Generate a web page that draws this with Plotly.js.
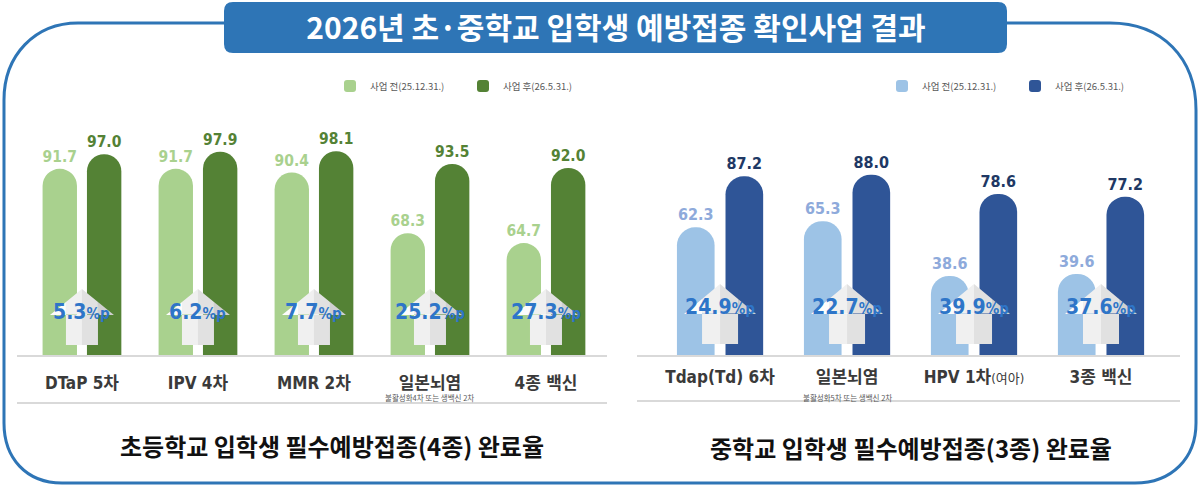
<!DOCTYPE html>
<html><head><meta charset="utf-8">
<script src="https://cdn.plot.ly/plotly-3.0.1.min.js"></script>
<style>html,body{margin:0;padding:0;background:#fff}#chart{width:1200px;height:485px}</style>
</head><body><div id="chart"></div>
<script>
// ---- data ----
const mainTitle = '2026년 초·중학교 입학생 예방접종 확인사업 결과';
const seriesNames = ['사업 전(25.12.31.)', '사업 후(26.5.31.)'];

const leftCats = ['DTaP 5차', 'IPV 4차', 'MMR 2차', '일본뇌염', '4종 백신'];
const leftSubLabels = ['', '', '', '불활성화4차 또는 생백신 2차', ''];
const leftBefore = [91.7, 91.7, 90.4, 68.3, 64.7];
const leftAfter = [97.0, 97.9, 98.1, 93.5, 92.0];
const leftDiff = ['5.3', '6.2', '7.7', '25.2', '27.3'];
const leftTitle = '초등학교 입학생 필수예방접종(4종) 완료율';

const rightCats = ['Tdap(Td) 6차', '일본뇌염', 'HPV 1차', '3종 백신'];
const rightTickText = ['Tdap(Td) 6차', '일본뇌염',
  'HPV 1차<span style="font-size:13px;font-weight:normal">(여아)</span>', '3종 백신'];
const rightSubLabels = ['', '불활성화5차 또는 생백신 2차', '', ''];
const rightBefore = [62.3, 65.3, 38.6, 39.6];
const rightAfter = [87.2, 88.0, 78.6, 77.2];
const rightDiff = ['24.9', '22.7', '39.9', '37.6'];
const rightTitle = '중학교 입학생 필수예방접종(3종) 완료율';

// ---- styling ----
const W = 1200, H = 485;
const NUM = "'Liberation Sans Narrow', 'DejaVu Sans Condensed', 'Noto Sans CJK KR', sans-serif";
const KR = "'Noto Sans CJK KR', 'Noto Sans', sans-serif";
const blue = '#2e75b6';
const baseY = 355; // image px of bar baseline
const yDom = [(H - baseY) / H, (H - 60) / H];
const px = (x) => x / W;
const py = (y) => 1 - y / H;

function barTrace(cats, vals, name, color, txtColor, xa, ya, leg) {
  return {
    type: 'bar', x: cats, y: vals, name: name, xaxis: xa, yaxis: ya, legend: leg, showlegend: true,
    marker: {color: color}, texttemplate: '%{y:.1f}', textposition: 'outside', cliponaxis: false,
    textfont: {family: NUM, size: 16, color: txtColor, weight: 'bold'}, hoverinfo: 'skip'
  };
}

const data = [
  barTrace(leftCats, leftBefore, seriesNames[0], '#a9d18e', '#a9d18e', 'x', 'y', 'legend'),
  barTrace(leftCats, leftAfter, seriesNames[1], '#548235', '#548235', 'x', 'y', 'legend'),
  barTrace(rightCats, rightBefore, seriesNames[0], '#9dc3e6', '#8eaadb', 'x2', 'y2', 'legend2'),
  barTrace(rightCats, rightAfter, seriesNames[1], '#2f5597', '#203864', 'x2', 'y2', 'legend2')
];

// arrows (gradient made of vertical slices)
const shapes = [];
function arrowShapes(xref, n, Hh, S, yb, yh, ya) {
  const cols = ['#fcfcfc', '#f0f0f0', '#e1e1e1', '#d0d0d0'];
  const edges = [-Hh, -Hh / 2, 0, Hh / 2, Hh];
  const Y = (p) => (yDom[0] + p / H).toFixed(5);
  const top = (x) => yh + (ya - yh) * (1 - Math.abs(x) / Hh);
  for (let i = 0; i < n; i++) {
    for (let k = 0; k < 4; k++) {
      const a = edges[k], b = edges[k + 1];
      let p = `M${a},${Y(yh)} L${b},${Y(yh)} L${b},${Y(top(b))} `;
      if (b === 0) p += `L0,${Y(ya)} `;
      p += `L${a},${Y(top(a))} Z`;
      const lo = Math.max(a, -S), hi = Math.min(b, S);
      if (lo < hi) p += ` M${lo},${Y(yb)} L${hi},${Y(yb)} L${hi},${Y(yh + 0.5)} L${lo},${Y(yh + 0.5)} Z`;
      shapes.push({type: 'path', xref: xref, yref: 'paper', xsizemode: 'pixel', xanchor: i,
        path: p, fillcolor: cols[k], line: {width: 0}, layer: 'above'});
    }
  }
}
arrowShapes('x', leftCats.length, 32, 16, 10, 40, 66);
arrowShapes('x2', rightCats.length, 36, 18, 11, 41, 71);

// lower divider lines
shapes.push({type: 'line', xref: 'x domain', yref: 'paper', x0: 0, x1: 1, y0: py(403), y1: py(403), line: {color: '#d9d9d9', width: 2}});
shapes.push({type: 'line', xref: 'x2 domain', yref: 'paper', x0: 0, x1: 1, y0: py(401), y1: py(401), line: {color: '#d9d9d9', width: 2}});

// outer rounded frame
const P = (x, y) => `${px(x).toFixed(5)},${py(y).toFixed(5)}`;
shapes.push({type: 'path', xref: 'paper', yref: 'paper', line: {color: blue, width: 3},
  path: `M${P(230, 23)} L${P(78, 23)} C${P(35, 23)} ${P(4, 55)} ${P(4, 100)} L${P(4, 423)} C${P(4, 458)} ${P(26, 483)} ${P(62, 483)} L${P(1135, 483)} C${P(1172, 483)} ${P(1196, 458)} ${P(1196, 423)} L${P(1196, 110)} C${P(1196, 58)} ${P(1162, 23)} ${P(1110, 23)} Z`});
// title box
const r = 9, bx0 = 224, bx1 = 1007, by0 = 2, by1 = 53;
shapes.push({type: 'path', xref: 'paper', yref: 'paper', fillcolor: blue, line: {width: 0},
  path: `M${P(bx0 + r, by0)} L${P(bx1 - r, by0)} Q${P(bx1, by0)} ${P(bx1, by0 + r)} L${P(bx1, by1 - r)} Q${P(bx1, by1)} ${P(bx1 - r, by1)} L${P(bx0 + r, by1)} Q${P(bx0, by1)} ${P(bx0, by1 - r)} L${P(bx0, by0 + r)} Q${P(bx0, by0)} ${P(bx0 + r, by0)} Z`});

const annotations = [];
function diffAnn(xref, diffs, yImg) {
  diffs.forEach((d, i) => annotations.push({
    xref: xref, yref: 'paper', x: i, y: py(yImg), showarrow: false, xanchor: 'center', yanchor: 'middle',
    text: `${d}<span style="font-size:15px">%p</span>`,
    font: {family: NUM, size: 21, color: '#2e75c8', weight: 'bold'}
  }));
}
diffAnn('x', leftDiff, 312);
diffAnn('x2', rightDiff, 307);
function subAnn(xref, subs, yImg) {
  subs.forEach((s, i) => { if (s) annotations.push({
    xref: xref, yref: 'paper', x: i, y: py(yImg), showarrow: false, xanchor: 'center', yanchor: 'middle',
    text: s, font: {family: KR, size: 7.5, color: '#595959'}
  }); });
}
subAnn('x', leftSubLabels, 397);
subAnn('x2', rightSubLabels, 397);
annotations.push({xref: 'paper', yref: 'paper', x: px(332), y: py(445), showarrow: false, xanchor: 'center', yanchor: 'middle',
  text: leftTitle, font: {family: KR, size: 24, color: '#111', weight: 'bold'}});
annotations.push({xref: 'paper', yref: 'paper', x: px(911), y: py(447), showarrow: false, xanchor: 'center', yanchor: 'middle',
  text: rightTitle, font: {family: KR, size: 24, color: '#111', weight: 'bold'}});

const tickFont = {family: NUM, size: 17, color: '#3a3a3a', weight: 'bold'};
const legendBase = {orientation: 'h', xanchor: 'left', yanchor: 'middle', bgcolor: 'rgba(0,0,0,0)',
  font: {family: KR, size: 9.5, color: '#595959'}, entrywidth: 88, entrywidthmode: 'pixels'};

const layout = {
  width: W, height: H, margin: {l: 0, r: 0, t: 0, b: 0}, paper_bgcolor: '#fff', plot_bgcolor: 'rgba(0,0,0,0)',
  showlegend: true, barmode: 'group', bargap: 0.235, bargroupgap: 0.225, barcornerradius: '50%',
  title: {text: mainTitle, x: px(616), y: py(28), xanchor: 'center', yanchor: 'middle', xref: 'paper', yref: 'container',
    font: {family: KR, size: 30, color: '#fff', weight: 'bold'}},
  xaxis: {domain: [px(17), px(607)], range: [-0.56, 4.526], anchor: 'y',
    tickfont: tickFont, showline: true, linecolor: '#d9d9d9', linewidth: 2, ticks: '', ticklabelstandoff: 12,
    showgrid: false, zeroline: false},
  yaxis: {domain: yDom, range: [24, 131.3], anchor: 'x', visible: false, showgrid: false, zeroline: false},
  xaxis2: {domain: [px(637), px(1180)], range: [-0.654, 3.622], anchor: 'y2', tickvals: rightCats, ticktext: rightTickText,
    tickfont: tickFont, showline: true, linecolor: '#d9d9d9', linewidth: 2, ticks: '', ticklabelstandoff: 6,
    showgrid: false, zeroline: false},
  yaxis2: {domain: yDom, range: [0, 144], anchor: 'x2', visible: false, showgrid: false, zeroline: false},
  legend: Object.assign({}, legendBase, {x: px(330), y: py(86)}),
  legend2: Object.assign({}, legendBase, {x: px(882), y: py(86)}),
  shapes: shapes, annotations: annotations
};

Plotly.newPlot('chart', data, layout, {staticPlot: true});
</script></body></html>
